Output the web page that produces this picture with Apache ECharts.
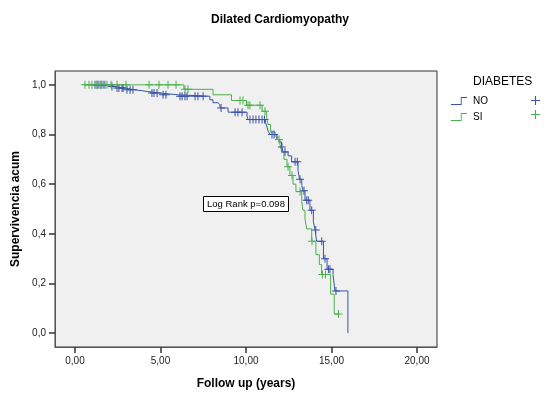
<!DOCTYPE html>
<html>
<head>
<meta charset="utf-8">
<script src="https://cdn.jsdelivr.net/npm/echarts@6/dist/echarts.min.js"></script>
<style>
  html, body { margin: 0; padding: 0; background: #fff; }
  #chart { width: 560px; height: 395px; }
</style>
</head>
<body>
<div id="chart"></div>
<script>
// Kaplan-Meier, grupo NO (sin diabetes)
const noTimes = [0.88, 2.05, 2.34, 2.92, 3.51, 4.27, 4.97, 6.02, 7.89, 8.07, 8.36, 8.48, 8.95, 10.06, 10.12,
  11.14, 11.21, 11.29, 11.40, 11.80, 11.93, 12.08, 12.18, 12.46, 12.67, 13.04, 13.13, 13.26, 13.33, 13.45,
  13.74, 13.94, 14.04, 14.13, 14.53, 14.74, 15.09, 15.20, 15.96];
const noSurv = [1.0, 0.993, 0.987, 0.98, 0.973, 0.967, 0.96, 0.954, 0.94, 0.928, 0.92, 0.907, 0.89, 0.874, 0.86,
  0.848, 0.834, 0.814, 0.80, 0.78, 0.77, 0.75, 0.73, 0.714, 0.69, 0.655, 0.62, 0.595, 0.574, 0.535,
  0.495, 0.449, 0.415, 0.37, 0.30, 0.257, 0.236, 0.17, 0.0];
const noCensored = [1.17, 1.29, 1.40, 1.52, 1.64, 1.75, 2.16, 2.46, 2.57, 2.75, 2.81, 3.04, 3.22, 3.39, 4.50,
  4.62, 4.80, 5.15, 5.32, 6.14, 6.26, 6.43, 6.55, 7.02, 7.19, 7.49, 8.54, 9.36, 9.53, 9.77, 10.23, 10.41,
  10.58, 10.76, 10.94, 11.08, 11.52, 11.64, 12.10, 12.28, 12.87, 13.00, 13.16, 13.39, 13.55, 13.64, 13.84,
  14.08, 14.43, 14.62, 14.82, 14.91, 15.26];

// grupo SI (diabetes)
const siTimes = [0.50, 6.37, 8.07, 9.15, 10.03, 10.94, 11.21, 11.29, 11.44, 11.70, 11.85, 11.99, 12.09, 12.22,
  12.40, 12.57, 12.75, 12.92, 13.26, 13.33, 13.45, 13.55, 13.84, 14.09, 14.29, 14.42, 14.95, 15.16];
const siSurv = [1.0, 0.982, 0.96, 0.937, 0.918, 0.894, 0.868, 0.84, 0.81, 0.794, 0.78, 0.76, 0.73, 0.70,
  0.67, 0.635, 0.60, 0.57, 0.53, 0.495, 0.46, 0.42, 0.37, 0.316, 0.276, 0.236, 0.157, 0.077];
const siCensored = [0.58, 0.82, 0.99, 1.29, 1.52, 1.87, 2.11, 2.46, 2.98, 4.33, 4.91, 5.44, 5.91, 6.43, 6.61,
  9.65, 9.82, 10.12, 10.23, 10.82, 11.11, 11.93, 12.46, 12.69, 13.16, 13.86, 14.47, 14.65, 15.41];

const xTicks = [0, 5, 10, 15, 20];
const yTicks = [0, 0.2, 0.4, 0.6, 0.8, 1.0];
const logRankText = 'Log Rank p=0.098';

const blue = '#3b54a8';
const green = '#4bb04f';
const font = 'Liberation Sans, Arial, sans-serif';
const plusPath = 'path://M3.5,0H4.5V3.5H8V4.5H4.5V8H3.5V4.5H0V3.5H3.5Z';
const stepIcon = 'path://M0,8H11V0H18V1H12V9H0Z';

// valor de la curva en el tiempo t
function survAt(times, surv, t) {
  let s = surv[0];
  for (let i = 0; i < times.length; i++) {
    if (times[i] <= t) s = surv[i];
  }
  return s;
}

function stepData(times, surv, censored) {
  let pts = times.map((t, i) => [t, surv[i]]);
  let lastC = Math.max(...censored);
  if (lastC > times[times.length - 1]) {
    pts.push([lastC, surv[surv.length - 1]]);
  }
  return pts;
}

function censorData(times, surv, censored) {
  return censored.map(t => [t, survAt(times, surv, t)]);
}

const chart = echarts.init(document.getElementById('chart'), null, { renderer: 'canvas' });

chart.setOption({
  backgroundColor: '#fff',
  animation: false,
  title: {
    text: 'Dilated Cardiomyopathy',
    left: 'center',
    top: 9,
    textStyle: { fontFamily: font, fontSize: 12, fontWeight: 'bold', color: '#000' }
  },
  grid: {
    left: 55, right: 123, top: 71, bottom: 45,
    show: true,
    backgroundColor: '#f0f0f0',
    borderColor: '#333',
    borderWidth: 1
  },
  xAxis: {
    type: 'value',
    min: -1.17, max: 21.17,
    name: 'Follow up (years)',
    nameLocation: 'middle',
    nameGap: 31,
    nameTextStyle: { fontFamily: font, fontSize: 12, fontWeight: 'bold', color: '#000' },
    axisLine: { show: true, onZero: false },
    axisTick: { show: true, length: 6, customValues: xTicks, lineStyle: { color: '#333', width: 1.5 } },
    axisLabel: {
      fontFamily: font, fontSize: 10, color: '#222', margin: 9,
      customValues: xTicks,
      formatter: v => v.toFixed(2).replace('.', ',')
    },
    splitLine: { show: false }
  },
  yAxis: {
    type: 'value',
    min: -0.0558, max: 1.0558,
    name: 'Supervivencia acum',
    nameLocation: 'middle',
    nameGap: 31,
    nameTextStyle: { fontFamily: font, fontSize: 12, fontWeight: 'bold', color: '#000' },
    axisLine: { show: true, onZero: false },
    axisTick: { show: true, length: 6, customValues: yTicks, lineStyle: { color: '#333', width: 1.5 } },
    axisLabel: {
      fontFamily: font, fontSize: 10, color: '#222', margin: 9,
      customValues: yTicks,
      formatter: v => v.toFixed(1).replace('.', ',')
    },
    splitLine: { show: false }
  },
  legend: [{
    data: ['NO', 'SI'],
    orient: 'vertical',
    left: 451,
    top: 96,
    padding: 0,
    icon: stepIcon,
    itemWidth: 18,
    itemHeight: 8,
    itemGap: 6,
    textStyle: { fontFamily: font, fontSize: 10, color: '#000' }
  }, {
    data: ['NO censurado', 'SI censurado'],
    orient: 'vertical',
    left: 531,
    top: 96,
    padding: 0,
    icon: plusPath,
    itemWidth: 9,
    itemHeight: 9,
    itemGap: 5,
    formatter: () => '',
    textStyle: { fontSize: 1 }
  }],
  graphic: [
    {
      type: 'text',
      left: 473,
      top: 76,
      style: { text: 'DIABETES', fontFamily: font, fontSize: 12, fill: '#000' }
    },
    {
      type: 'rect',
      z: 20,
      shape: { x: 203.5, y: 196.5, width: 85, height: 15 },
      style: { fill: '#fff', stroke: '#000', lineWidth: 1 }
    },
    {
      type: 'text',
      z: 21,
      left: 207,
      top: 199,
      style: { text: logRankText, fontFamily: font, fontSize: 9.5, fill: '#000' }
    }
  ],
  series: [
    {
      name: 'NO',
      type: 'line',
      step: 'end',
      symbol: 'none',
      data: stepData(noTimes, noSurv, noCensored),
      lineStyle: { color: blue, width: 1 },
      itemStyle: { color: blue },
      z: 3
    },
    {
      name: 'SI',
      type: 'line',
      step: 'end',
      symbol: 'none',
      data: stepData(siTimes, siSurv, siCensored),
      lineStyle: { color: green, width: 1 },
      itemStyle: { color: green },
      z: 4
    },
    {
      name: 'NO censurado',
      type: 'scatter',
      symbol: plusPath,
      symbolSize: 8,
      data: censorData(noTimes, noSurv, noCensored),
      itemStyle: { color: blue, opacity: 1 },
      z: 5
    },
    {
      name: 'SI censurado',
      type: 'scatter',
      symbol: plusPath,
      symbolSize: 8,
      data: censorData(siTimes, siSurv, siCensored),
      itemStyle: { color: green, opacity: 1 },
      z: 6
    }
  ]
});
</script>
</body>
</html>
